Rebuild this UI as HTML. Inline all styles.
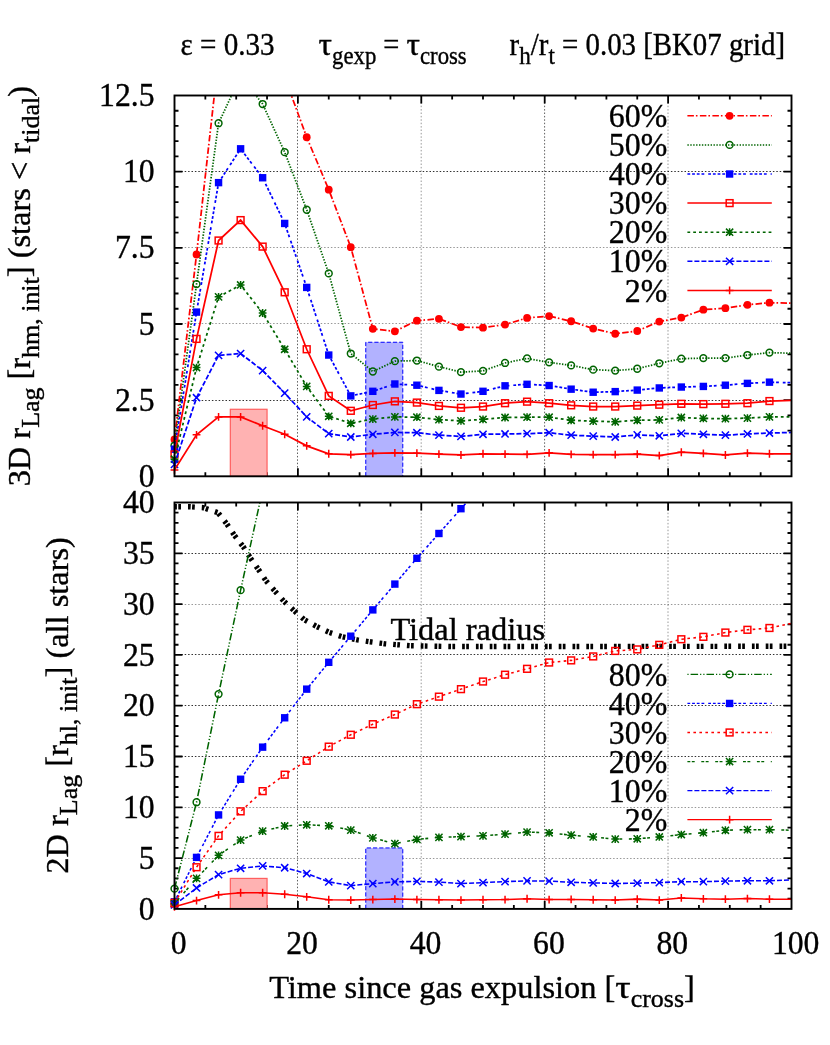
<!DOCTYPE html>
<html><head><meta charset="utf-8"><title>r_Lag</title>
<style>html,body{margin:0;padding:0;background:#fff}svg{display:block;will-change:transform}</style></head>
<body>
<svg width="830" height="1045" viewBox="0 0 830 1045" font-family="'Liberation Serif', serif" fill="#000"><style>text{stroke:#000;stroke-width:0.38px}</style>
<rect width="830" height="1045" fill="#fff"/>
<defs><clipPath id="ct"><rect x="174.5" y="95.5" width="617.0" height="380.8"/></clipPath><clipPath id="cb"><rect x="174.5" y="502.5" width="617.0" height="406.4"/></clipPath></defs>
<path d="M297.50 95.50V476.30" stroke="#000" stroke-width="0.9" stroke-opacity="0.7" stroke-dasharray="1.5 1.9" fill="none"/>
<path d="M421.20 95.50V476.30" stroke="#000" stroke-width="0.9" stroke-opacity="0.45" stroke-dasharray="1.5 1.9" fill="none"/>
<path d="M544.60 95.50V476.30" stroke="#000" stroke-width="0.9" stroke-opacity="0.7" stroke-dasharray="1.5 1.9" fill="none"/>
<path d="M668.00 95.50V476.30" stroke="#000" stroke-width="0.9" stroke-opacity="0.45" stroke-dasharray="1.5 1.9" fill="none"/>
<path d="M174.50 400.50H791.50" stroke="#000" stroke-width="0.9" stroke-opacity="0.9" stroke-dasharray="1.5 1.9" fill="none"/>
<path d="M174.50 323.50H791.50" stroke="#000" stroke-width="0.9" stroke-opacity="0.45" stroke-dasharray="1.5 1.9" fill="none"/>
<path d="M174.50 247.50H791.50" stroke="#000" stroke-width="0.9" stroke-opacity="0.45" stroke-dasharray="1.5 1.9" fill="none"/>
<path d="M174.50 171.50H791.50" stroke="#000" stroke-width="0.9" stroke-opacity="0.9" stroke-dasharray="1.5 1.9" fill="none"/>
<path d="M297.50 502.50V908.90" stroke="#000" stroke-width="0.9" stroke-opacity="0.7" stroke-dasharray="1.5 1.9" fill="none"/>
<path d="M421.20 502.50V908.90" stroke="#000" stroke-width="0.9" stroke-opacity="0.45" stroke-dasharray="1.5 1.9" fill="none"/>
<path d="M544.60 502.50V908.90" stroke="#000" stroke-width="0.9" stroke-opacity="0.7" stroke-dasharray="1.5 1.9" fill="none"/>
<path d="M668.00 502.50V908.90" stroke="#000" stroke-width="0.9" stroke-opacity="0.45" stroke-dasharray="1.5 1.9" fill="none"/>
<path d="M174.50 858.50H791.50" stroke="#000" stroke-width="0.9" stroke-opacity="0.45" stroke-dasharray="1.5 1.9" fill="none"/>
<path d="M174.50 807.50H791.50" stroke="#000" stroke-width="0.9" stroke-opacity="0.45" stroke-dasharray="1.5 1.9" fill="none"/>
<path d="M174.50 756.50H791.50" stroke="#000" stroke-width="0.9" stroke-opacity="0.9" stroke-dasharray="1.5 1.9" fill="none"/>
<path d="M174.50 705.50H791.50" stroke="#000" stroke-width="0.9" stroke-opacity="0.9" stroke-dasharray="1.5 1.9" fill="none"/>
<path d="M174.50 654.50H791.50" stroke="#000" stroke-width="0.9" stroke-opacity="0.9" stroke-dasharray="1.5 1.9" fill="none"/>
<path d="M174.50 604.50H791.50" stroke="#000" stroke-width="0.9" stroke-opacity="0.45" stroke-dasharray="1.5 1.9" fill="none"/>
<path d="M174.50 553.50H791.50" stroke="#000" stroke-width="0.9" stroke-opacity="0.9" stroke-dasharray="1.5 1.9" fill="none"/>
<path d="M205.35 476.30v-4.00M205.35 95.50v4.00M236.20 476.30v-4.00M236.20 95.50v4.00M267.05 476.30v-4.00M267.05 95.50v4.00M297.90 476.30v-8.00M297.90 95.50v8.00M328.75 476.30v-4.00M328.75 95.50v4.00M359.60 476.30v-4.00M359.60 95.50v4.00M390.45 476.30v-4.00M390.45 95.50v4.00M421.30 476.30v-8.00M421.30 95.50v8.00M452.15 476.30v-4.00M452.15 95.50v4.00M483.00 476.30v-4.00M483.00 95.50v4.00M513.85 476.30v-4.00M513.85 95.50v4.00M544.70 476.30v-8.00M544.70 95.50v8.00M575.55 476.30v-4.00M575.55 95.50v4.00M606.40 476.30v-4.00M606.40 95.50v4.00M637.25 476.30v-4.00M637.25 95.50v4.00M668.10 476.30v-8.00M668.10 95.50v8.00M698.95 476.30v-4.00M698.95 95.50v4.00M729.80 476.30v-4.00M729.80 95.50v4.00M760.65 476.30v-4.00M760.65 95.50v4.00M174.50 461.07h4.00M791.50 461.07h-4.00M174.50 445.84h4.00M791.50 445.84h-4.00M174.50 430.60h4.00M791.50 430.60h-4.00M174.50 415.37h4.00M791.50 415.37h-4.00M174.50 400.14h8.00M791.50 400.14h-8.00M174.50 384.91h4.00M791.50 384.91h-4.00M174.50 369.68h4.00M791.50 369.68h-4.00M174.50 354.44h4.00M791.50 354.44h-4.00M174.50 339.21h4.00M791.50 339.21h-4.00M174.50 323.98h8.00M791.50 323.98h-8.00M174.50 308.75h4.00M791.50 308.75h-4.00M174.50 293.52h4.00M791.50 293.52h-4.00M174.50 278.28h4.00M791.50 278.28h-4.00M174.50 263.05h4.00M791.50 263.05h-4.00M174.50 247.82h8.00M791.50 247.82h-8.00M174.50 232.59h4.00M791.50 232.59h-4.00M174.50 217.36h4.00M791.50 217.36h-4.00M174.50 202.12h4.00M791.50 202.12h-4.00M174.50 186.89h4.00M791.50 186.89h-4.00M174.50 171.66h8.00M791.50 171.66h-8.00M174.50 156.43h4.00M791.50 156.43h-4.00M174.50 141.20h4.00M791.50 141.20h-4.00M174.50 125.96h4.00M791.50 125.96h-4.00M174.50 110.73h4.00M791.50 110.73h-4.00" stroke="#000" stroke-width="1.8" fill="none"/>
<path d="M205.35 908.90v-4.00M205.35 502.50v4.00M236.20 908.90v-4.00M236.20 502.50v4.00M267.05 908.90v-4.00M267.05 502.50v4.00M297.90 908.90v-8.00M297.90 502.50v8.00M328.75 908.90v-4.00M328.75 502.50v4.00M359.60 908.90v-4.00M359.60 502.50v4.00M390.45 908.90v-4.00M390.45 502.50v4.00M421.30 908.90v-8.00M421.30 502.50v8.00M452.15 908.90v-4.00M452.15 502.50v4.00M483.00 908.90v-4.00M483.00 502.50v4.00M513.85 908.90v-4.00M513.85 502.50v4.00M544.70 908.90v-8.00M544.70 502.50v8.00M575.55 908.90v-4.00M575.55 502.50v4.00M606.40 908.90v-4.00M606.40 502.50v4.00M637.25 908.90v-4.00M637.25 502.50v4.00M668.10 908.90v-8.00M668.10 502.50v8.00M698.95 908.90v-4.00M698.95 502.50v4.00M729.80 908.90v-4.00M729.80 502.50v4.00M760.65 908.90v-4.00M760.65 502.50v4.00M174.50 898.74h4.00M791.50 898.74h-4.00M174.50 888.58h4.00M791.50 888.58h-4.00M174.50 878.42h4.00M791.50 878.42h-4.00M174.50 868.26h4.00M791.50 868.26h-4.00M174.50 858.10h8.00M791.50 858.10h-8.00M174.50 847.94h4.00M791.50 847.94h-4.00M174.50 837.78h4.00M791.50 837.78h-4.00M174.50 827.62h4.00M791.50 827.62h-4.00M174.50 817.46h4.00M791.50 817.46h-4.00M174.50 807.30h8.00M791.50 807.30h-8.00M174.50 797.14h4.00M791.50 797.14h-4.00M174.50 786.98h4.00M791.50 786.98h-4.00M174.50 776.82h4.00M791.50 776.82h-4.00M174.50 766.66h4.00M791.50 766.66h-4.00M174.50 756.50h8.00M791.50 756.50h-8.00M174.50 746.34h4.00M791.50 746.34h-4.00M174.50 736.18h4.00M791.50 736.18h-4.00M174.50 726.02h4.00M791.50 726.02h-4.00M174.50 715.86h4.00M791.50 715.86h-4.00M174.50 705.70h8.00M791.50 705.70h-8.00M174.50 695.54h4.00M791.50 695.54h-4.00M174.50 685.38h4.00M791.50 685.38h-4.00M174.50 675.22h4.00M791.50 675.22h-4.00M174.50 665.06h4.00M791.50 665.06h-4.00M174.50 654.90h8.00M791.50 654.90h-8.00M174.50 644.74h4.00M791.50 644.74h-4.00M174.50 634.58h4.00M791.50 634.58h-4.00M174.50 624.42h4.00M791.50 624.42h-4.00M174.50 614.26h4.00M791.50 614.26h-4.00M174.50 604.10h8.00M791.50 604.10h-8.00M174.50 593.94h4.00M791.50 593.94h-4.00M174.50 583.78h4.00M791.50 583.78h-4.00M174.50 573.62h4.00M791.50 573.62h-4.00M174.50 563.46h4.00M791.50 563.46h-4.00M174.50 553.30h8.00M791.50 553.30h-8.00M174.50 543.14h4.00M791.50 543.14h-4.00M174.50 532.98h4.00M791.50 532.98h-4.00M174.50 522.82h4.00M791.50 522.82h-4.00M174.50 512.66h4.00M791.50 512.66h-4.00" stroke="#000" stroke-width="1.8" fill="none"/>
<rect x="230.33" y="409.28" width="36.72" height="67.02" fill="#ffb2b2" stroke="#ff5f5f" stroke-width="1.2"/>
<rect x="365.77" y="342.26" width="37.02" height="134.04" fill="#b2b2ff"/>
<path d="M365.77 476.30V342.26H402.79V476.30" fill="none" stroke="#0000ff" stroke-width="1" stroke-dasharray="4.2 2"/>
<rect x="230.33" y="878.42" width="36.72" height="30.48" fill="#ffb2b2" stroke="#ff5f5f" stroke-width="1.2"/>
<rect x="365.77" y="847.94" width="37.02" height="60.96" fill="#b2b2ff"/>
<path d="M365.77 908.90V847.94H402.79V908.90" fill="none" stroke="#0000ff" stroke-width="1" stroke-dasharray="4.2 2"/>
<polyline clip-path="url(#ct)" points="174.50,439.44 196.54,254.52 218.57,57.42 240.61,13.25 262.64,31.53 284.68,77.22 306.71,137.24 328.75,189.63 350.79,247.21 372.82,328.85 394.86,331.29 416.89,320.63 438.93,318.80 460.96,327.03 483.00,327.64 505.04,324.59 527.07,317.89 549.11,316.06 571.14,321.24 593.18,328.55 615.21,333.73 637.25,330.99 659.29,321.54 681.32,317.58 703.36,309.66 725.39,308.14 747.43,304.79 769.46,302.66 791.50,303.26" fill="none" stroke="#ff0000" stroke-width="1.75" stroke-dasharray="6.5 2 1.6 2.4"/>
<circle cx="174.50" cy="439.44" r="3.9" fill="#ff0000"/>
<circle cx="196.54" cy="254.52" r="3.9" fill="#ff0000"/>
<circle cx="306.71" cy="137.24" r="3.9" fill="#ff0000"/>
<circle cx="328.75" cy="189.63" r="3.9" fill="#ff0000"/>
<circle cx="350.79" cy="247.21" r="3.9" fill="#ff0000"/>
<circle cx="372.82" cy="328.85" r="3.9" fill="#ff0000"/>
<circle cx="394.86" cy="331.29" r="3.9" fill="#ff0000"/>
<circle cx="416.89" cy="320.63" r="3.9" fill="#ff0000"/>
<circle cx="438.93" cy="318.80" r="3.9" fill="#ff0000"/>
<circle cx="460.96" cy="327.03" r="3.9" fill="#ff0000"/>
<circle cx="483.00" cy="327.64" r="3.9" fill="#ff0000"/>
<circle cx="505.04" cy="324.59" r="3.9" fill="#ff0000"/>
<circle cx="527.07" cy="317.89" r="3.9" fill="#ff0000"/>
<circle cx="549.11" cy="316.06" r="3.9" fill="#ff0000"/>
<circle cx="571.14" cy="321.24" r="3.9" fill="#ff0000"/>
<circle cx="593.18" cy="328.55" r="3.9" fill="#ff0000"/>
<circle cx="615.21" cy="333.73" r="3.9" fill="#ff0000"/>
<circle cx="637.25" cy="330.99" r="3.9" fill="#ff0000"/>
<circle cx="659.29" cy="321.54" r="3.9" fill="#ff0000"/>
<circle cx="681.32" cy="317.58" r="3.9" fill="#ff0000"/>
<circle cx="703.36" cy="309.66" r="3.9" fill="#ff0000"/>
<circle cx="725.39" cy="308.14" r="3.9" fill="#ff0000"/>
<circle cx="747.43" cy="304.79" r="3.9" fill="#ff0000"/>
<circle cx="769.46" cy="302.66" r="3.9" fill="#ff0000"/>
<polyline clip-path="url(#ct)" points="174.50,445.53 196.54,284.07 218.57,123.22 240.61,76.00 262.64,104.03 284.68,152.16 306.71,209.74 328.75,273.41 350.79,353.53 372.82,371.50 394.86,361.15 416.89,360.54 438.93,366.63 460.96,372.11 483.00,370.89 505.04,362.97 527.07,358.40 549.11,362.36 571.14,365.41 593.18,369.68 615.21,370.59 637.25,368.76 659.29,363.28 681.32,358.71 703.36,358.10 725.39,358.10 747.43,355.05 769.46,352.62 791.50,353.23" fill="none" stroke="#006400" stroke-width="1.75" stroke-dasharray="1.4 1.5"/>
<circle cx="174.50" cy="445.53" r="3.4" fill="none" stroke="#006400" stroke-width="1.5"/>
<circle cx="196.54" cy="284.07" r="3.4" fill="none" stroke="#006400" stroke-width="1.5"/>
<circle cx="218.57" cy="123.22" r="3.4" fill="none" stroke="#006400" stroke-width="1.5"/>
<circle cx="262.64" cy="104.03" r="3.4" fill="none" stroke="#006400" stroke-width="1.5"/>
<circle cx="284.68" cy="152.16" r="3.4" fill="none" stroke="#006400" stroke-width="1.5"/>
<circle cx="306.71" cy="209.74" r="3.4" fill="none" stroke="#006400" stroke-width="1.5"/>
<circle cx="328.75" cy="273.41" r="3.4" fill="none" stroke="#006400" stroke-width="1.5"/>
<circle cx="350.79" cy="353.53" r="3.4" fill="none" stroke="#006400" stroke-width="1.5"/>
<circle cx="372.82" cy="371.50" r="3.4" fill="none" stroke="#006400" stroke-width="1.5"/>
<circle cx="394.86" cy="361.15" r="3.4" fill="none" stroke="#006400" stroke-width="1.5"/>
<circle cx="416.89" cy="360.54" r="3.4" fill="none" stroke="#006400" stroke-width="1.5"/>
<circle cx="438.93" cy="366.63" r="3.4" fill="none" stroke="#006400" stroke-width="1.5"/>
<circle cx="460.96" cy="372.11" r="3.4" fill="none" stroke="#006400" stroke-width="1.5"/>
<circle cx="483.00" cy="370.89" r="3.4" fill="none" stroke="#006400" stroke-width="1.5"/>
<circle cx="505.04" cy="362.97" r="3.4" fill="none" stroke="#006400" stroke-width="1.5"/>
<circle cx="527.07" cy="358.40" r="3.4" fill="none" stroke="#006400" stroke-width="1.5"/>
<circle cx="549.11" cy="362.36" r="3.4" fill="none" stroke="#006400" stroke-width="1.5"/>
<circle cx="571.14" cy="365.41" r="3.4" fill="none" stroke="#006400" stroke-width="1.5"/>
<circle cx="593.18" cy="369.68" r="3.4" fill="none" stroke="#006400" stroke-width="1.5"/>
<circle cx="615.21" cy="370.59" r="3.4" fill="none" stroke="#006400" stroke-width="1.5"/>
<circle cx="637.25" cy="368.76" r="3.4" fill="none" stroke="#006400" stroke-width="1.5"/>
<circle cx="659.29" cy="363.28" r="3.4" fill="none" stroke="#006400" stroke-width="1.5"/>
<circle cx="681.32" cy="358.71" r="3.4" fill="none" stroke="#006400" stroke-width="1.5"/>
<circle cx="703.36" cy="358.10" r="3.4" fill="none" stroke="#006400" stroke-width="1.5"/>
<circle cx="725.39" cy="358.10" r="3.4" fill="none" stroke="#006400" stroke-width="1.5"/>
<circle cx="747.43" cy="355.05" r="3.4" fill="none" stroke="#006400" stroke-width="1.5"/>
<circle cx="769.46" cy="352.62" r="3.4" fill="none" stroke="#006400" stroke-width="1.5"/>
<polyline clip-path="url(#ct)" points="174.50,449.19 196.54,312.10 218.57,182.63 240.61,148.81 262.64,177.75 284.68,223.45 306.71,287.42 328.75,355.05 350.79,395.88 372.82,391.31 394.86,383.99 416.89,385.21 438.93,390.39 460.96,394.05 483.00,391.31 505.04,385.82 527.07,384.30 549.11,385.52 571.14,389.17 593.18,392.22 615.21,391.61 637.25,390.09 659.29,387.95 681.32,387.04 703.36,386.43 725.39,385.21 747.43,383.38 769.46,382.17 791.50,382.78" fill="none" stroke="#0000ff" stroke-width="1.75" stroke-dasharray="2.8 1.9 2.8 1.9 2.8 1.9 2.8 3.9"/>
<rect x="170.80" y="445.49" width="7.4" height="7.4" fill="#0000ff"/>
<rect x="192.84" y="308.40" width="7.4" height="7.4" fill="#0000ff"/>
<rect x="214.87" y="178.93" width="7.4" height="7.4" fill="#0000ff"/>
<rect x="236.91" y="145.11" width="7.4" height="7.4" fill="#0000ff"/>
<rect x="258.94" y="174.05" width="7.4" height="7.4" fill="#0000ff"/>
<rect x="280.98" y="219.75" width="7.4" height="7.4" fill="#0000ff"/>
<rect x="303.01" y="283.72" width="7.4" height="7.4" fill="#0000ff"/>
<rect x="325.05" y="351.35" width="7.4" height="7.4" fill="#0000ff"/>
<rect x="347.09" y="392.18" width="7.4" height="7.4" fill="#0000ff"/>
<rect x="369.12" y="387.61" width="7.4" height="7.4" fill="#0000ff"/>
<rect x="391.16" y="380.29" width="7.4" height="7.4" fill="#0000ff"/>
<rect x="413.19" y="381.51" width="7.4" height="7.4" fill="#0000ff"/>
<rect x="435.23" y="386.69" width="7.4" height="7.4" fill="#0000ff"/>
<rect x="457.26" y="390.35" width="7.4" height="7.4" fill="#0000ff"/>
<rect x="479.30" y="387.61" width="7.4" height="7.4" fill="#0000ff"/>
<rect x="501.34" y="382.12" width="7.4" height="7.4" fill="#0000ff"/>
<rect x="523.37" y="380.60" width="7.4" height="7.4" fill="#0000ff"/>
<rect x="545.41" y="381.82" width="7.4" height="7.4" fill="#0000ff"/>
<rect x="567.44" y="385.47" width="7.4" height="7.4" fill="#0000ff"/>
<rect x="589.48" y="388.52" width="7.4" height="7.4" fill="#0000ff"/>
<rect x="611.51" y="387.91" width="7.4" height="7.4" fill="#0000ff"/>
<rect x="633.55" y="386.39" width="7.4" height="7.4" fill="#0000ff"/>
<rect x="655.59" y="384.25" width="7.4" height="7.4" fill="#0000ff"/>
<rect x="677.62" y="383.34" width="7.4" height="7.4" fill="#0000ff"/>
<rect x="699.66" y="382.73" width="7.4" height="7.4" fill="#0000ff"/>
<rect x="721.69" y="381.51" width="7.4" height="7.4" fill="#0000ff"/>
<rect x="743.73" y="379.68" width="7.4" height="7.4" fill="#0000ff"/>
<rect x="765.76" y="378.47" width="7.4" height="7.4" fill="#0000ff"/>
<polyline clip-path="url(#ct)" points="174.50,454.37 196.54,338.91 218.57,240.51 240.61,220.10 262.64,246.60 284.68,292.30 306.71,349.27 328.75,395.88 350.79,410.80 372.82,405.01 394.86,401.36 416.89,402.58 438.93,405.93 460.96,407.76 483.00,406.54 505.04,403.19 527.07,401.66 549.11,403.19 571.14,405.32 593.18,406.54 615.21,406.54 637.25,405.62 659.29,404.71 681.32,403.80 703.36,404.10 725.39,403.80 747.43,403.19 769.46,401.05 791.50,400.44" fill="none" stroke="#ff0000" stroke-width="1.75"/>
<rect x="171.10" y="450.97" width="6.8" height="6.8" fill="none" stroke="#ff0000" stroke-width="1.5"/>
<rect x="193.14" y="335.51" width="6.8" height="6.8" fill="none" stroke="#ff0000" stroke-width="1.5"/>
<rect x="215.17" y="237.11" width="6.8" height="6.8" fill="none" stroke="#ff0000" stroke-width="1.5"/>
<rect x="237.21" y="216.70" width="6.8" height="6.8" fill="none" stroke="#ff0000" stroke-width="1.5"/>
<rect x="259.24" y="243.20" width="6.8" height="6.8" fill="none" stroke="#ff0000" stroke-width="1.5"/>
<rect x="281.28" y="288.90" width="6.8" height="6.8" fill="none" stroke="#ff0000" stroke-width="1.5"/>
<rect x="303.31" y="345.87" width="6.8" height="6.8" fill="none" stroke="#ff0000" stroke-width="1.5"/>
<rect x="325.35" y="392.48" width="6.8" height="6.8" fill="none" stroke="#ff0000" stroke-width="1.5"/>
<rect x="347.39" y="407.40" width="6.8" height="6.8" fill="none" stroke="#ff0000" stroke-width="1.5"/>
<rect x="369.42" y="401.61" width="6.8" height="6.8" fill="none" stroke="#ff0000" stroke-width="1.5"/>
<rect x="391.46" y="397.96" width="6.8" height="6.8" fill="none" stroke="#ff0000" stroke-width="1.5"/>
<rect x="413.49" y="399.18" width="6.8" height="6.8" fill="none" stroke="#ff0000" stroke-width="1.5"/>
<rect x="435.53" y="402.53" width="6.8" height="6.8" fill="none" stroke="#ff0000" stroke-width="1.5"/>
<rect x="457.56" y="404.36" width="6.8" height="6.8" fill="none" stroke="#ff0000" stroke-width="1.5"/>
<rect x="479.60" y="403.14" width="6.8" height="6.8" fill="none" stroke="#ff0000" stroke-width="1.5"/>
<rect x="501.64" y="399.79" width="6.8" height="6.8" fill="none" stroke="#ff0000" stroke-width="1.5"/>
<rect x="523.67" y="398.26" width="6.8" height="6.8" fill="none" stroke="#ff0000" stroke-width="1.5"/>
<rect x="545.71" y="399.79" width="6.8" height="6.8" fill="none" stroke="#ff0000" stroke-width="1.5"/>
<rect x="567.74" y="401.92" width="6.8" height="6.8" fill="none" stroke="#ff0000" stroke-width="1.5"/>
<rect x="589.78" y="403.14" width="6.8" height="6.8" fill="none" stroke="#ff0000" stroke-width="1.5"/>
<rect x="611.81" y="403.14" width="6.8" height="6.8" fill="none" stroke="#ff0000" stroke-width="1.5"/>
<rect x="633.85" y="402.22" width="6.8" height="6.8" fill="none" stroke="#ff0000" stroke-width="1.5"/>
<rect x="655.89" y="401.31" width="6.8" height="6.8" fill="none" stroke="#ff0000" stroke-width="1.5"/>
<rect x="677.92" y="400.40" width="6.8" height="6.8" fill="none" stroke="#ff0000" stroke-width="1.5"/>
<rect x="699.96" y="400.70" width="6.8" height="6.8" fill="none" stroke="#ff0000" stroke-width="1.5"/>
<rect x="721.99" y="400.40" width="6.8" height="6.8" fill="none" stroke="#ff0000" stroke-width="1.5"/>
<rect x="744.03" y="399.79" width="6.8" height="6.8" fill="none" stroke="#ff0000" stroke-width="1.5"/>
<rect x="766.06" y="397.65" width="6.8" height="6.8" fill="none" stroke="#ff0000" stroke-width="1.5"/>
<polyline clip-path="url(#ct)" points="174.50,459.24 196.54,367.54 218.57,296.87 240.61,284.99 262.64,313.01 284.68,349.27 306.71,386.43 328.75,416.29 350.79,423.29 372.82,419.03 394.86,416.90 416.89,417.20 438.93,419.64 460.96,420.86 483.00,419.33 505.04,417.50 527.07,417.20 549.11,417.20 571.14,420.25 593.18,421.16 615.21,421.77 637.25,420.25 659.29,419.94 681.32,417.50 703.36,418.42 725.39,418.72 747.43,418.11 769.46,416.90 791.50,416.90" fill="none" stroke="#006400" stroke-width="1.75" stroke-dasharray="2.8 3"/>
<path d="M170.60 459.24H178.40M174.50 455.34V463.14M170.90 455.64L178.10 462.84M170.90 462.84L178.10 455.64" stroke="#006400" stroke-width="1.5" fill="none"/>
<path d="M192.64 367.54H200.44M196.54 363.64V371.44M192.94 363.94L200.14 371.14M192.94 371.14L200.14 363.94" stroke="#006400" stroke-width="1.5" fill="none"/>
<path d="M214.67 296.87H222.47M218.57 292.97V300.77M214.97 293.27L222.17 300.47M214.97 300.47L222.17 293.27" stroke="#006400" stroke-width="1.5" fill="none"/>
<path d="M236.71 284.99H244.51M240.61 281.09V288.89M237.01 281.39L244.21 288.59M237.01 288.59L244.21 281.39" stroke="#006400" stroke-width="1.5" fill="none"/>
<path d="M258.74 313.01H266.54M262.64 309.11V316.91M259.04 309.41L266.24 316.61M259.04 316.61L266.24 309.41" stroke="#006400" stroke-width="1.5" fill="none"/>
<path d="M280.78 349.27H288.58M284.68 345.37V353.17M281.08 345.67L288.28 352.87M281.08 352.87L288.28 345.67" stroke="#006400" stroke-width="1.5" fill="none"/>
<path d="M302.81 386.43H310.61M306.71 382.53V390.33M303.11 382.83L310.31 390.03M303.11 390.03L310.31 382.83" stroke="#006400" stroke-width="1.5" fill="none"/>
<path d="M324.85 416.29H332.65M328.75 412.39V420.19M325.15 412.69L332.35 419.89M325.15 419.89L332.35 412.69" stroke="#006400" stroke-width="1.5" fill="none"/>
<path d="M346.89 423.29H354.69M350.79 419.39V427.19M347.19 419.69L354.39 426.89M347.19 426.89L354.39 419.69" stroke="#006400" stroke-width="1.5" fill="none"/>
<path d="M368.92 419.03H376.72M372.82 415.13V422.93M369.22 415.43L376.42 422.63M369.22 422.63L376.42 415.43" stroke="#006400" stroke-width="1.5" fill="none"/>
<path d="M390.96 416.90H398.76M394.86 413.00V420.80M391.26 413.30L398.46 420.50M391.26 420.50L398.46 413.30" stroke="#006400" stroke-width="1.5" fill="none"/>
<path d="M412.99 417.20H420.79M416.89 413.30V421.10M413.29 413.60L420.49 420.80M413.29 420.80L420.49 413.60" stroke="#006400" stroke-width="1.5" fill="none"/>
<path d="M435.03 419.64H442.83M438.93 415.74V423.54M435.33 416.04L442.53 423.24M435.33 423.24L442.53 416.04" stroke="#006400" stroke-width="1.5" fill="none"/>
<path d="M457.06 420.86H464.86M460.96 416.96V424.76M457.36 417.26L464.56 424.46M457.36 424.46L464.56 417.26" stroke="#006400" stroke-width="1.5" fill="none"/>
<path d="M479.10 419.33H486.90M483.00 415.43V423.23M479.40 415.73L486.60 422.93M479.40 422.93L486.60 415.73" stroke="#006400" stroke-width="1.5" fill="none"/>
<path d="M501.14 417.50H508.94M505.04 413.60V421.40M501.44 413.90L508.64 421.10M501.44 421.10L508.64 413.90" stroke="#006400" stroke-width="1.5" fill="none"/>
<path d="M523.17 417.20H530.97M527.07 413.30V421.10M523.47 413.60L530.67 420.80M523.47 420.80L530.67 413.60" stroke="#006400" stroke-width="1.5" fill="none"/>
<path d="M545.21 417.20H553.01M549.11 413.30V421.10M545.51 413.60L552.71 420.80M545.51 420.80L552.71 413.60" stroke="#006400" stroke-width="1.5" fill="none"/>
<path d="M567.24 420.25H575.04M571.14 416.35V424.15M567.54 416.65L574.74 423.85M567.54 423.85L574.74 416.65" stroke="#006400" stroke-width="1.5" fill="none"/>
<path d="M589.28 421.16H597.08M593.18 417.26V425.06M589.58 417.56L596.78 424.76M589.58 424.76L596.78 417.56" stroke="#006400" stroke-width="1.5" fill="none"/>
<path d="M611.31 421.77H619.11M615.21 417.87V425.67M611.61 418.17L618.81 425.37M611.61 425.37L618.81 418.17" stroke="#006400" stroke-width="1.5" fill="none"/>
<path d="M633.35 420.25H641.15M637.25 416.35V424.15M633.65 416.65L640.85 423.85M633.65 423.85L640.85 416.65" stroke="#006400" stroke-width="1.5" fill="none"/>
<path d="M655.39 419.94H663.19M659.29 416.04V423.84M655.69 416.34L662.89 423.54M655.69 423.54L662.89 416.34" stroke="#006400" stroke-width="1.5" fill="none"/>
<path d="M677.42 417.50H685.22M681.32 413.60V421.40M677.72 413.90L684.92 421.10M677.72 421.10L684.92 413.90" stroke="#006400" stroke-width="1.5" fill="none"/>
<path d="M699.46 418.42H707.26M703.36 414.52V422.32M699.76 414.82L706.96 422.02M699.76 422.02L706.96 414.82" stroke="#006400" stroke-width="1.5" fill="none"/>
<path d="M721.49 418.72H729.29M725.39 414.82V422.62M721.79 415.12L728.99 422.32M721.79 422.32L728.99 415.12" stroke="#006400" stroke-width="1.5" fill="none"/>
<path d="M743.53 418.11H751.33M747.43 414.21V422.01M743.83 414.51L751.03 421.71M743.83 421.71L751.03 414.51" stroke="#006400" stroke-width="1.5" fill="none"/>
<path d="M765.56 416.90H773.36M769.46 413.00V420.80M765.86 413.30L773.06 420.50M765.86 420.50L773.06 413.30" stroke="#006400" stroke-width="1.5" fill="none"/>
<polyline clip-path="url(#ct)" points="174.50,464.42 196.54,397.70 218.57,355.36 240.61,353.53 262.64,370.59 284.68,393.13 306.71,416.90 328.75,433.65 350.79,437.00 372.82,434.26 394.86,432.43 416.89,432.74 438.93,435.17 460.96,436.39 483.00,434.26 505.04,433.96 527.07,433.65 549.11,432.74 571.14,435.17 593.18,436.09 615.21,437.00 637.25,434.87 659.29,435.78 681.32,433.35 703.36,434.26 725.39,435.17 747.43,433.96 769.46,433.04 791.50,432.43" fill="none" stroke="#0000ff" stroke-width="1.75" stroke-dasharray="5 2"/>
<path d="M170.90 460.82L178.10 468.02M170.90 468.02L178.10 460.82" stroke="#0000ff" stroke-width="1.5" fill="none"/>
<path d="M192.94 394.10L200.14 401.30M192.94 401.30L200.14 394.10" stroke="#0000ff" stroke-width="1.5" fill="none"/>
<path d="M214.97 351.76L222.17 358.96M214.97 358.96L222.17 351.76" stroke="#0000ff" stroke-width="1.5" fill="none"/>
<path d="M237.01 349.93L244.21 357.13M237.01 357.13L244.21 349.93" stroke="#0000ff" stroke-width="1.5" fill="none"/>
<path d="M259.04 366.99L266.24 374.19M259.04 374.19L266.24 366.99" stroke="#0000ff" stroke-width="1.5" fill="none"/>
<path d="M281.08 389.53L288.28 396.73M281.08 396.73L288.28 389.53" stroke="#0000ff" stroke-width="1.5" fill="none"/>
<path d="M303.11 413.30L310.31 420.50M303.11 420.50L310.31 413.30" stroke="#0000ff" stroke-width="1.5" fill="none"/>
<path d="M325.15 430.05L332.35 437.25M325.15 437.25L332.35 430.05" stroke="#0000ff" stroke-width="1.5" fill="none"/>
<path d="M347.19 433.40L354.39 440.60M347.19 440.60L354.39 433.40" stroke="#0000ff" stroke-width="1.5" fill="none"/>
<path d="M369.22 430.66L376.42 437.86M369.22 437.86L376.42 430.66" stroke="#0000ff" stroke-width="1.5" fill="none"/>
<path d="M391.26 428.83L398.46 436.03M391.26 436.03L398.46 428.83" stroke="#0000ff" stroke-width="1.5" fill="none"/>
<path d="M413.29 429.14L420.49 436.34M413.29 436.34L420.49 429.14" stroke="#0000ff" stroke-width="1.5" fill="none"/>
<path d="M435.33 431.57L442.53 438.77M435.33 438.77L442.53 431.57" stroke="#0000ff" stroke-width="1.5" fill="none"/>
<path d="M457.36 432.79L464.56 439.99M457.36 439.99L464.56 432.79" stroke="#0000ff" stroke-width="1.5" fill="none"/>
<path d="M479.40 430.66L486.60 437.86M479.40 437.86L486.60 430.66" stroke="#0000ff" stroke-width="1.5" fill="none"/>
<path d="M501.44 430.36L508.64 437.56M501.44 437.56L508.64 430.36" stroke="#0000ff" stroke-width="1.5" fill="none"/>
<path d="M523.47 430.05L530.67 437.25M523.47 437.25L530.67 430.05" stroke="#0000ff" stroke-width="1.5" fill="none"/>
<path d="M545.51 429.14L552.71 436.34M545.51 436.34L552.71 429.14" stroke="#0000ff" stroke-width="1.5" fill="none"/>
<path d="M567.54 431.57L574.74 438.77M567.54 438.77L574.74 431.57" stroke="#0000ff" stroke-width="1.5" fill="none"/>
<path d="M589.58 432.49L596.78 439.69M589.58 439.69L596.78 432.49" stroke="#0000ff" stroke-width="1.5" fill="none"/>
<path d="M611.61 433.40L618.81 440.60M611.61 440.60L618.81 433.40" stroke="#0000ff" stroke-width="1.5" fill="none"/>
<path d="M633.65 431.27L640.85 438.47M633.65 438.47L640.85 431.27" stroke="#0000ff" stroke-width="1.5" fill="none"/>
<path d="M655.69 432.18L662.89 439.38M655.69 439.38L662.89 432.18" stroke="#0000ff" stroke-width="1.5" fill="none"/>
<path d="M677.72 429.75L684.92 436.95M677.72 436.95L684.92 429.75" stroke="#0000ff" stroke-width="1.5" fill="none"/>
<path d="M699.76 430.66L706.96 437.86M699.76 437.86L706.96 430.66" stroke="#0000ff" stroke-width="1.5" fill="none"/>
<path d="M721.79 431.57L728.99 438.77M721.79 438.77L728.99 431.57" stroke="#0000ff" stroke-width="1.5" fill="none"/>
<path d="M743.83 430.36L751.03 437.56M743.83 437.56L751.03 430.36" stroke="#0000ff" stroke-width="1.5" fill="none"/>
<path d="M765.86 429.44L773.06 436.64M765.86 436.64L773.06 429.44" stroke="#0000ff" stroke-width="1.5" fill="none"/>
<polyline clip-path="url(#ct)" points="174.50,469.90 196.54,434.87 218.57,416.90 240.61,416.90 262.64,425.73 284.68,434.26 306.71,445.84 328.75,453.76 350.79,454.67 372.82,453.45 394.86,452.84 416.89,453.15 438.93,454.06 460.96,454.98 483.00,453.76 505.04,454.06 527.07,454.37 549.11,452.84 571.14,454.37 593.18,454.67 615.21,454.67 637.25,454.06 659.29,455.58 681.32,452.23 703.36,453.45 725.39,454.98 747.43,453.15 769.46,453.76 791.50,453.76" fill="none" stroke="#ff0000" stroke-width="1.75"/>
<path d="M170.60 469.90H178.40M174.50 466.00V473.80" stroke="#ff0000" stroke-width="1.5" fill="none"/>
<path d="M192.64 434.87H200.44M196.54 430.97V438.77" stroke="#ff0000" stroke-width="1.5" fill="none"/>
<path d="M214.67 416.90H222.47M218.57 413.00V420.80" stroke="#ff0000" stroke-width="1.5" fill="none"/>
<path d="M236.71 416.90H244.51M240.61 413.00V420.80" stroke="#ff0000" stroke-width="1.5" fill="none"/>
<path d="M258.74 425.73H266.54M262.64 421.83V429.63" stroke="#ff0000" stroke-width="1.5" fill="none"/>
<path d="M280.78 434.26H288.58M284.68 430.36V438.16" stroke="#ff0000" stroke-width="1.5" fill="none"/>
<path d="M302.81 445.84H310.61M306.71 441.94V449.74" stroke="#ff0000" stroke-width="1.5" fill="none"/>
<path d="M324.85 453.76H332.65M328.75 449.86V457.66" stroke="#ff0000" stroke-width="1.5" fill="none"/>
<path d="M346.89 454.67H354.69M350.79 450.77V458.57" stroke="#ff0000" stroke-width="1.5" fill="none"/>
<path d="M368.92 453.45H376.72M372.82 449.55V457.35" stroke="#ff0000" stroke-width="1.5" fill="none"/>
<path d="M390.96 452.84H398.76M394.86 448.94V456.74" stroke="#ff0000" stroke-width="1.5" fill="none"/>
<path d="M412.99 453.15H420.79M416.89 449.25V457.05" stroke="#ff0000" stroke-width="1.5" fill="none"/>
<path d="M435.03 454.06H442.83M438.93 450.16V457.96" stroke="#ff0000" stroke-width="1.5" fill="none"/>
<path d="M457.06 454.98H464.86M460.96 451.08V458.88" stroke="#ff0000" stroke-width="1.5" fill="none"/>
<path d="M479.10 453.76H486.90M483.00 449.86V457.66" stroke="#ff0000" stroke-width="1.5" fill="none"/>
<path d="M501.14 454.06H508.94M505.04 450.16V457.96" stroke="#ff0000" stroke-width="1.5" fill="none"/>
<path d="M523.17 454.37H530.97M527.07 450.47V458.27" stroke="#ff0000" stroke-width="1.5" fill="none"/>
<path d="M545.21 452.84H553.01M549.11 448.94V456.74" stroke="#ff0000" stroke-width="1.5" fill="none"/>
<path d="M567.24 454.37H575.04M571.14 450.47V458.27" stroke="#ff0000" stroke-width="1.5" fill="none"/>
<path d="M589.28 454.67H597.08M593.18 450.77V458.57" stroke="#ff0000" stroke-width="1.5" fill="none"/>
<path d="M611.31 454.67H619.11M615.21 450.77V458.57" stroke="#ff0000" stroke-width="1.5" fill="none"/>
<path d="M633.35 454.06H641.15M637.25 450.16V457.96" stroke="#ff0000" stroke-width="1.5" fill="none"/>
<path d="M655.39 455.58H663.19M659.29 451.68V459.48" stroke="#ff0000" stroke-width="1.5" fill="none"/>
<path d="M677.42 452.23H685.22M681.32 448.33V456.13" stroke="#ff0000" stroke-width="1.5" fill="none"/>
<path d="M699.46 453.45H707.26M703.36 449.55V457.35" stroke="#ff0000" stroke-width="1.5" fill="none"/>
<path d="M721.49 454.98H729.29M725.39 451.08V458.88" stroke="#ff0000" stroke-width="1.5" fill="none"/>
<path d="M743.53 453.15H751.33M747.43 449.25V457.05" stroke="#ff0000" stroke-width="1.5" fill="none"/>
<path d="M765.56 453.76H773.36M769.46 449.86V457.66" stroke="#ff0000" stroke-width="1.5" fill="none"/>
<polyline clip-path="url(#cb)" points="174.50,506.77 189.93,506.77 202.88,507.58 218.06,512.76 226.94,524.14 234.53,535.52 243.36,546.90 249.71,556.96 258.54,569.66 266.12,581.04 275.01,591.20 283.89,601.26 294.01,610.60 304.07,619.54 316.78,626.55 329.37,632.45 342.08,636.71 357.26,639.96 369.90,641.79 384.28,643.72 410.81,645.76 452.15,646.57 791.50,646.26" fill="none" stroke="#000" stroke-width="5.4" stroke-dasharray="2.7 1.4 2.7 7" stroke-dashoffset="0.3"/>
<polyline clip-path="url(#cb)" points="174.50,888.68 196.54,802.22 218.57,694.12 240.61,590.18 262.64,489.80" fill="none" stroke="#006400" stroke-width="1.55" stroke-dasharray="7.5 2 1.2 2 1.2 2"/>
<circle cx="174.50" cy="888.68" r="3.4" fill="none" stroke="#006400" stroke-width="1.5"/>
<circle cx="196.54" cy="802.22" r="3.4" fill="none" stroke="#006400" stroke-width="1.5"/>
<circle cx="218.57" cy="694.12" r="3.4" fill="none" stroke="#006400" stroke-width="1.5"/>
<circle cx="240.61" cy="590.18" r="3.4" fill="none" stroke="#006400" stroke-width="1.5"/>
<polyline clip-path="url(#cb)" points="174.50,901.79 196.54,857.39 218.57,814.92 240.61,779.26 262.64,747.15 284.68,717.79 306.71,689.14 328.75,662.32 350.79,636.21 372.82,609.89 394.86,584.08 416.89,558.28 438.93,533.49 460.96,508.70 483.00,484.21" fill="none" stroke="#0000ff" stroke-width="1.55" stroke-dasharray="2.8 1.9 2.8 1.9 2.8 1.9 2.8 3.9"/>
<rect x="170.80" y="898.09" width="7.4" height="7.4" fill="#0000ff"/>
<rect x="192.84" y="853.69" width="7.4" height="7.4" fill="#0000ff"/>
<rect x="214.87" y="811.22" width="7.4" height="7.4" fill="#0000ff"/>
<rect x="236.91" y="775.56" width="7.4" height="7.4" fill="#0000ff"/>
<rect x="258.94" y="743.45" width="7.4" height="7.4" fill="#0000ff"/>
<rect x="280.98" y="714.09" width="7.4" height="7.4" fill="#0000ff"/>
<rect x="303.01" y="685.44" width="7.4" height="7.4" fill="#0000ff"/>
<rect x="325.05" y="658.62" width="7.4" height="7.4" fill="#0000ff"/>
<rect x="347.09" y="632.51" width="7.4" height="7.4" fill="#0000ff"/>
<rect x="369.12" y="606.19" width="7.4" height="7.4" fill="#0000ff"/>
<rect x="391.16" y="580.38" width="7.4" height="7.4" fill="#0000ff"/>
<rect x="413.19" y="554.58" width="7.4" height="7.4" fill="#0000ff"/>
<rect x="435.23" y="529.79" width="7.4" height="7.4" fill="#0000ff"/>
<rect x="457.26" y="505.00" width="7.4" height="7.4" fill="#0000ff"/>
<polyline clip-path="url(#cb)" points="174.50,902.80 196.54,867.24 218.57,835.85 240.61,811.36 262.64,791.15 284.68,774.69 306.71,760.77 328.75,746.64 350.79,734.76 372.82,724.19 394.86,714.54 416.89,704.18 438.93,696.66 460.96,689.14 483.00,681.52 505.04,674.71 527.07,668.82 549.11,662.52 571.14,660.39 593.18,656.42 615.21,650.94 637.25,649.41 659.29,644.84 681.32,639.25 703.36,636.82 725.39,632.55 747.43,629.80 769.46,627.98 791.50,623.40" fill="none" stroke="#ff0000" stroke-width="1.55" stroke-dasharray="2.6 3.4"/>
<rect x="171.10" y="899.40" width="6.8" height="6.8" fill="none" stroke="#ff0000" stroke-width="1.5"/>
<rect x="193.14" y="863.84" width="6.8" height="6.8" fill="none" stroke="#ff0000" stroke-width="1.5"/>
<rect x="215.17" y="832.45" width="6.8" height="6.8" fill="none" stroke="#ff0000" stroke-width="1.5"/>
<rect x="237.21" y="807.96" width="6.8" height="6.8" fill="none" stroke="#ff0000" stroke-width="1.5"/>
<rect x="259.24" y="787.75" width="6.8" height="6.8" fill="none" stroke="#ff0000" stroke-width="1.5"/>
<rect x="281.28" y="771.29" width="6.8" height="6.8" fill="none" stroke="#ff0000" stroke-width="1.5"/>
<rect x="303.31" y="757.37" width="6.8" height="6.8" fill="none" stroke="#ff0000" stroke-width="1.5"/>
<rect x="325.35" y="743.24" width="6.8" height="6.8" fill="none" stroke="#ff0000" stroke-width="1.5"/>
<rect x="347.39" y="731.36" width="6.8" height="6.8" fill="none" stroke="#ff0000" stroke-width="1.5"/>
<rect x="369.42" y="720.79" width="6.8" height="6.8" fill="none" stroke="#ff0000" stroke-width="1.5"/>
<rect x="391.46" y="711.14" width="6.8" height="6.8" fill="none" stroke="#ff0000" stroke-width="1.5"/>
<rect x="413.49" y="700.78" width="6.8" height="6.8" fill="none" stroke="#ff0000" stroke-width="1.5"/>
<rect x="435.53" y="693.26" width="6.8" height="6.8" fill="none" stroke="#ff0000" stroke-width="1.5"/>
<rect x="457.56" y="685.74" width="6.8" height="6.8" fill="none" stroke="#ff0000" stroke-width="1.5"/>
<rect x="479.60" y="678.12" width="6.8" height="6.8" fill="none" stroke="#ff0000" stroke-width="1.5"/>
<rect x="501.64" y="671.31" width="6.8" height="6.8" fill="none" stroke="#ff0000" stroke-width="1.5"/>
<rect x="523.67" y="665.42" width="6.8" height="6.8" fill="none" stroke="#ff0000" stroke-width="1.5"/>
<rect x="545.71" y="659.12" width="6.8" height="6.8" fill="none" stroke="#ff0000" stroke-width="1.5"/>
<rect x="567.74" y="656.99" width="6.8" height="6.8" fill="none" stroke="#ff0000" stroke-width="1.5"/>
<rect x="589.78" y="653.02" width="6.8" height="6.8" fill="none" stroke="#ff0000" stroke-width="1.5"/>
<rect x="611.81" y="647.54" width="6.8" height="6.8" fill="none" stroke="#ff0000" stroke-width="1.5"/>
<rect x="633.85" y="646.01" width="6.8" height="6.8" fill="none" stroke="#ff0000" stroke-width="1.5"/>
<rect x="655.89" y="641.44" width="6.8" height="6.8" fill="none" stroke="#ff0000" stroke-width="1.5"/>
<rect x="677.92" y="635.85" width="6.8" height="6.8" fill="none" stroke="#ff0000" stroke-width="1.5"/>
<rect x="699.96" y="633.42" width="6.8" height="6.8" fill="none" stroke="#ff0000" stroke-width="1.5"/>
<rect x="721.99" y="629.15" width="6.8" height="6.8" fill="none" stroke="#ff0000" stroke-width="1.5"/>
<rect x="744.03" y="626.40" width="6.8" height="6.8" fill="none" stroke="#ff0000" stroke-width="1.5"/>
<rect x="766.06" y="624.58" width="6.8" height="6.8" fill="none" stroke="#ff0000" stroke-width="1.5"/>
<polyline clip-path="url(#cb)" points="174.50,903.82 196.54,878.32 218.57,855.36 240.61,840.12 262.64,831.07 284.68,825.99 306.71,824.78 328.75,825.79 350.79,830.06 372.82,837.88 394.86,843.67 416.89,839.41 438.93,837.37 460.96,836.66 483.00,835.85 505.04,834.12 527.07,832.09 549.11,832.80 571.14,835.14 593.18,836.97 615.21,839.10 637.25,838.80 659.29,836.97 681.32,834.53 703.36,832.70 725.39,830.26 747.43,829.65 769.46,829.65 791.50,830.26" fill="none" stroke="#006400" stroke-width="1.55" stroke-dasharray="2.9 1.5 2.9 6.6"/>
<path d="M170.60 903.82H178.40M174.50 899.92V907.72M170.90 900.22L178.10 907.42M170.90 907.42L178.10 900.22" stroke="#006400" stroke-width="1.5" fill="none"/>
<path d="M192.64 878.32H200.44M196.54 874.42V882.22M192.94 874.72L200.14 881.92M192.94 881.92L200.14 874.72" stroke="#006400" stroke-width="1.5" fill="none"/>
<path d="M214.67 855.36H222.47M218.57 851.46V859.26M214.97 851.76L222.17 858.96M214.97 858.96L222.17 851.76" stroke="#006400" stroke-width="1.5" fill="none"/>
<path d="M236.71 840.12H244.51M240.61 836.22V844.02M237.01 836.52L244.21 843.72M237.01 843.72L244.21 836.52" stroke="#006400" stroke-width="1.5" fill="none"/>
<path d="M258.74 831.07H266.54M262.64 827.17V834.97M259.04 827.47L266.24 834.67M259.04 834.67L266.24 827.47" stroke="#006400" stroke-width="1.5" fill="none"/>
<path d="M280.78 825.99H288.58M284.68 822.09V829.89M281.08 822.39L288.28 829.59M281.08 829.59L288.28 822.39" stroke="#006400" stroke-width="1.5" fill="none"/>
<path d="M302.81 824.78H310.61M306.71 820.88V828.68M303.11 821.18L310.31 828.38M303.11 828.38L310.31 821.18" stroke="#006400" stroke-width="1.5" fill="none"/>
<path d="M324.85 825.79H332.65M328.75 821.89V829.69M325.15 822.19L332.35 829.39M325.15 829.39L332.35 822.19" stroke="#006400" stroke-width="1.5" fill="none"/>
<path d="M346.89 830.06H354.69M350.79 826.16V833.96M347.19 826.46L354.39 833.66M347.19 833.66L354.39 826.46" stroke="#006400" stroke-width="1.5" fill="none"/>
<path d="M368.92 837.88H376.72M372.82 833.98V841.78M369.22 834.28L376.42 841.48M369.22 841.48L376.42 834.28" stroke="#006400" stroke-width="1.5" fill="none"/>
<path d="M390.96 843.67H398.76M394.86 839.77V847.57M391.26 840.07L398.46 847.27M391.26 847.27L398.46 840.07" stroke="#006400" stroke-width="1.5" fill="none"/>
<path d="M412.99 839.41H420.79M416.89 835.51V843.31M413.29 835.81L420.49 843.01M413.29 843.01L420.49 835.81" stroke="#006400" stroke-width="1.5" fill="none"/>
<path d="M435.03 837.37H442.83M438.93 833.47V841.27M435.33 833.77L442.53 840.97M435.33 840.97L442.53 833.77" stroke="#006400" stroke-width="1.5" fill="none"/>
<path d="M457.06 836.66H464.86M460.96 832.76V840.56M457.36 833.06L464.56 840.26M457.36 840.26L464.56 833.06" stroke="#006400" stroke-width="1.5" fill="none"/>
<path d="M479.10 835.85H486.90M483.00 831.95V839.75M479.40 832.25L486.60 839.45M479.40 839.45L486.60 832.25" stroke="#006400" stroke-width="1.5" fill="none"/>
<path d="M501.14 834.12H508.94M505.04 830.22V838.02M501.44 830.52L508.64 837.72M501.44 837.72L508.64 830.52" stroke="#006400" stroke-width="1.5" fill="none"/>
<path d="M523.17 832.09H530.97M527.07 828.19V835.99M523.47 828.49L530.67 835.69M523.47 835.69L530.67 828.49" stroke="#006400" stroke-width="1.5" fill="none"/>
<path d="M545.21 832.80H553.01M549.11 828.90V836.70M545.51 829.20L552.71 836.40M545.51 836.40L552.71 829.20" stroke="#006400" stroke-width="1.5" fill="none"/>
<path d="M567.24 835.14H575.04M571.14 831.24V839.04M567.54 831.54L574.74 838.74M567.54 838.74L574.74 831.54" stroke="#006400" stroke-width="1.5" fill="none"/>
<path d="M589.28 836.97H597.08M593.18 833.07V840.87M589.58 833.37L596.78 840.57M589.58 840.57L596.78 833.37" stroke="#006400" stroke-width="1.5" fill="none"/>
<path d="M611.31 839.10H619.11M615.21 835.20V843.00M611.61 835.50L618.81 842.70M611.61 842.70L618.81 835.50" stroke="#006400" stroke-width="1.5" fill="none"/>
<path d="M633.35 838.80H641.15M637.25 834.90V842.70M633.65 835.20L640.85 842.40M633.65 842.40L640.85 835.20" stroke="#006400" stroke-width="1.5" fill="none"/>
<path d="M655.39 836.97H663.19M659.29 833.07V840.87M655.69 833.37L662.89 840.57M655.69 840.57L662.89 833.37" stroke="#006400" stroke-width="1.5" fill="none"/>
<path d="M677.42 834.53H685.22M681.32 830.63V838.43M677.72 830.93L684.92 838.13M677.72 838.13L684.92 830.93" stroke="#006400" stroke-width="1.5" fill="none"/>
<path d="M699.46 832.70H707.26M703.36 828.80V836.60M699.76 829.10L706.96 836.30M699.76 836.30L706.96 829.10" stroke="#006400" stroke-width="1.5" fill="none"/>
<path d="M721.49 830.26H729.29M725.39 826.36V834.16M721.79 826.66L728.99 833.86M721.79 833.86L728.99 826.66" stroke="#006400" stroke-width="1.5" fill="none"/>
<path d="M743.53 829.65H751.33M747.43 825.75V833.55M743.83 826.05L751.03 833.25M743.83 833.25L751.03 826.05" stroke="#006400" stroke-width="1.5" fill="none"/>
<path d="M765.56 829.65H773.36M769.46 825.75V833.55M765.86 826.05L773.06 833.25M765.86 833.25L773.06 826.05" stroke="#006400" stroke-width="1.5" fill="none"/>
<polyline clip-path="url(#cb)" points="174.50,904.84 196.54,887.97 218.57,874.56 240.61,868.26 262.64,865.92 284.68,867.75 306.71,873.54 328.75,881.87 350.79,885.63 372.82,883.60 394.86,881.87 416.89,881.37 438.93,882.08 460.96,883.60 483.00,882.59 505.04,881.57 527.07,880.86 549.11,881.06 571.14,882.28 593.18,882.89 615.21,883.50 637.25,883.20 659.29,882.59 681.32,881.67 703.36,881.67 725.39,881.06 747.43,880.76 769.46,880.76 791.50,879.84" fill="none" stroke="#0000ff" stroke-width="1.55" stroke-dasharray="5 2"/>
<path d="M170.90 901.24L178.10 908.44M170.90 908.44L178.10 901.24" stroke="#0000ff" stroke-width="1.5" fill="none"/>
<path d="M192.94 884.37L200.14 891.57M192.94 891.57L200.14 884.37" stroke="#0000ff" stroke-width="1.5" fill="none"/>
<path d="M214.97 870.96L222.17 878.16M214.97 878.16L222.17 870.96" stroke="#0000ff" stroke-width="1.5" fill="none"/>
<path d="M237.01 864.66L244.21 871.86M237.01 871.86L244.21 864.66" stroke="#0000ff" stroke-width="1.5" fill="none"/>
<path d="M259.04 862.32L266.24 869.52M259.04 869.52L266.24 862.32" stroke="#0000ff" stroke-width="1.5" fill="none"/>
<path d="M281.08 864.15L288.28 871.35M281.08 871.35L288.28 864.15" stroke="#0000ff" stroke-width="1.5" fill="none"/>
<path d="M303.11 869.94L310.31 877.14M303.11 877.14L310.31 869.94" stroke="#0000ff" stroke-width="1.5" fill="none"/>
<path d="M325.15 878.27L332.35 885.47M325.15 885.47L332.35 878.27" stroke="#0000ff" stroke-width="1.5" fill="none"/>
<path d="M347.19 882.03L354.39 889.23M347.19 889.23L354.39 882.03" stroke="#0000ff" stroke-width="1.5" fill="none"/>
<path d="M369.22 880.00L376.42 887.20M369.22 887.20L376.42 880.00" stroke="#0000ff" stroke-width="1.5" fill="none"/>
<path d="M391.26 878.27L398.46 885.47M391.26 885.47L398.46 878.27" stroke="#0000ff" stroke-width="1.5" fill="none"/>
<path d="M413.29 877.77L420.49 884.97M413.29 884.97L420.49 877.77" stroke="#0000ff" stroke-width="1.5" fill="none"/>
<path d="M435.33 878.48L442.53 885.68M435.33 885.68L442.53 878.48" stroke="#0000ff" stroke-width="1.5" fill="none"/>
<path d="M457.36 880.00L464.56 887.20M457.36 887.20L464.56 880.00" stroke="#0000ff" stroke-width="1.5" fill="none"/>
<path d="M479.40 878.99L486.60 886.19M479.40 886.19L486.60 878.99" stroke="#0000ff" stroke-width="1.5" fill="none"/>
<path d="M501.44 877.97L508.64 885.17M501.44 885.17L508.64 877.97" stroke="#0000ff" stroke-width="1.5" fill="none"/>
<path d="M523.47 877.26L530.67 884.46M523.47 884.46L530.67 877.26" stroke="#0000ff" stroke-width="1.5" fill="none"/>
<path d="M545.51 877.46L552.71 884.66M545.51 884.66L552.71 877.46" stroke="#0000ff" stroke-width="1.5" fill="none"/>
<path d="M567.54 878.68L574.74 885.88M567.54 885.88L574.74 878.68" stroke="#0000ff" stroke-width="1.5" fill="none"/>
<path d="M589.58 879.29L596.78 886.49M589.58 886.49L596.78 879.29" stroke="#0000ff" stroke-width="1.5" fill="none"/>
<path d="M611.61 879.90L618.81 887.10M611.61 887.10L618.81 879.90" stroke="#0000ff" stroke-width="1.5" fill="none"/>
<path d="M633.65 879.60L640.85 886.80M633.65 886.80L640.85 879.60" stroke="#0000ff" stroke-width="1.5" fill="none"/>
<path d="M655.69 878.99L662.89 886.19M655.69 886.19L662.89 878.99" stroke="#0000ff" stroke-width="1.5" fill="none"/>
<path d="M677.72 878.07L684.92 885.27M677.72 885.27L684.92 878.07" stroke="#0000ff" stroke-width="1.5" fill="none"/>
<path d="M699.76 878.07L706.96 885.27M699.76 885.27L706.96 878.07" stroke="#0000ff" stroke-width="1.5" fill="none"/>
<path d="M721.79 877.46L728.99 884.66M721.79 884.66L728.99 877.46" stroke="#0000ff" stroke-width="1.5" fill="none"/>
<path d="M743.83 877.16L751.03 884.36M743.83 884.36L751.03 877.16" stroke="#0000ff" stroke-width="1.5" fill="none"/>
<path d="M765.86 877.16L773.06 884.36M765.86 884.36L773.06 877.16" stroke="#0000ff" stroke-width="1.5" fill="none"/>
<polyline clip-path="url(#cb)" points="174.50,906.87 196.54,900.57 218.57,894.78 240.61,892.75 262.64,892.75 284.68,894.27 306.71,896.81 328.75,899.76 350.79,900.06 372.82,899.55 394.86,899.04 416.89,899.55 438.93,899.76 460.96,900.06 483.00,899.76 505.04,899.55 527.07,898.74 549.11,899.55 571.14,899.45 593.18,899.76 615.21,900.06 637.25,899.15 659.29,900.06 681.32,897.93 703.36,898.84 725.39,899.15 747.43,898.54 769.46,899.15 791.50,899.15" fill="none" stroke="#ff0000" stroke-width="1.55"/>
<path d="M170.60 906.87H178.40M174.50 902.97V910.77" stroke="#ff0000" stroke-width="1.5" fill="none"/>
<path d="M192.64 900.57H200.44M196.54 896.67V904.47" stroke="#ff0000" stroke-width="1.5" fill="none"/>
<path d="M214.67 894.78H222.47M218.57 890.88V898.68" stroke="#ff0000" stroke-width="1.5" fill="none"/>
<path d="M236.71 892.75H244.51M240.61 888.85V896.65" stroke="#ff0000" stroke-width="1.5" fill="none"/>
<path d="M258.74 892.75H266.54M262.64 888.85V896.65" stroke="#ff0000" stroke-width="1.5" fill="none"/>
<path d="M280.78 894.27H288.58M284.68 890.37V898.17" stroke="#ff0000" stroke-width="1.5" fill="none"/>
<path d="M302.81 896.81H310.61M306.71 892.91V900.71" stroke="#ff0000" stroke-width="1.5" fill="none"/>
<path d="M324.85 899.76H332.65M328.75 895.86V903.66" stroke="#ff0000" stroke-width="1.5" fill="none"/>
<path d="M346.89 900.06H354.69M350.79 896.16V903.96" stroke="#ff0000" stroke-width="1.5" fill="none"/>
<path d="M368.92 899.55H376.72M372.82 895.65V903.45" stroke="#ff0000" stroke-width="1.5" fill="none"/>
<path d="M390.96 899.04H398.76M394.86 895.14V902.94" stroke="#ff0000" stroke-width="1.5" fill="none"/>
<path d="M412.99 899.55H420.79M416.89 895.65V903.45" stroke="#ff0000" stroke-width="1.5" fill="none"/>
<path d="M435.03 899.76H442.83M438.93 895.86V903.66" stroke="#ff0000" stroke-width="1.5" fill="none"/>
<path d="M457.06 900.06H464.86M460.96 896.16V903.96" stroke="#ff0000" stroke-width="1.5" fill="none"/>
<path d="M479.10 899.76H486.90M483.00 895.86V903.66" stroke="#ff0000" stroke-width="1.5" fill="none"/>
<path d="M501.14 899.55H508.94M505.04 895.65V903.45" stroke="#ff0000" stroke-width="1.5" fill="none"/>
<path d="M523.17 898.74H530.97M527.07 894.84V902.64" stroke="#ff0000" stroke-width="1.5" fill="none"/>
<path d="M545.21 899.55H553.01M549.11 895.65V903.45" stroke="#ff0000" stroke-width="1.5" fill="none"/>
<path d="M567.24 899.45H575.04M571.14 895.55V903.35" stroke="#ff0000" stroke-width="1.5" fill="none"/>
<path d="M589.28 899.76H597.08M593.18 895.86V903.66" stroke="#ff0000" stroke-width="1.5" fill="none"/>
<path d="M611.31 900.06H619.11M615.21 896.16V903.96" stroke="#ff0000" stroke-width="1.5" fill="none"/>
<path d="M633.35 899.15H641.15M637.25 895.25V903.05" stroke="#ff0000" stroke-width="1.5" fill="none"/>
<path d="M655.39 900.06H663.19M659.29 896.16V903.96" stroke="#ff0000" stroke-width="1.5" fill="none"/>
<path d="M677.42 897.93H685.22M681.32 894.03V901.83" stroke="#ff0000" stroke-width="1.5" fill="none"/>
<path d="M699.46 898.84H707.26M703.36 894.94V902.74" stroke="#ff0000" stroke-width="1.5" fill="none"/>
<path d="M721.49 899.15H729.29M725.39 895.25V903.05" stroke="#ff0000" stroke-width="1.5" fill="none"/>
<path d="M743.53 898.54H751.33M747.43 894.64V902.44" stroke="#ff0000" stroke-width="1.5" fill="none"/>
<path d="M765.56 899.15H773.36M769.46 895.25V903.05" stroke="#ff0000" stroke-width="1.5" fill="none"/>
<path d="M687.40 115.80H771.80" fill="none" stroke="#ff0000" stroke-width="1.5" stroke-dasharray="6.5 2 1.6 2.4"/>
<circle cx="729.60" cy="115.80" r="3.9" fill="#ff0000"/>
<text transform="translate(667.30 126.90) scale(0.9300 1)" font-size="34.3" text-anchor="end">60%</text>
<path d="M687.40 144.90H771.80" fill="none" stroke="#006400" stroke-width="1.5" stroke-dasharray="1.4 1.5"/>
<circle cx="729.60" cy="144.90" r="3.4" fill="none" stroke="#006400" stroke-width="1.5"/>
<text transform="translate(667.30 156.00) scale(0.9300 1)" font-size="34.3" text-anchor="end">50%</text>
<path d="M687.40 174.00H771.80" fill="none" stroke="#0000ff" stroke-width="1.5" stroke-dasharray="2.8 1.9 2.8 1.9 2.8 1.9 2.8 3.9"/>
<rect x="725.90" y="170.30" width="7.4" height="7.4" fill="#0000ff"/>
<text transform="translate(667.30 185.10) scale(0.9300 1)" font-size="34.3" text-anchor="end">40%</text>
<path d="M687.40 203.10H771.80" fill="none" stroke="#ff0000" stroke-width="1.5"/>
<rect x="726.20" y="199.70" width="6.8" height="6.8" fill="none" stroke="#ff0000" stroke-width="1.5"/>
<text transform="translate(667.30 214.20) scale(0.9300 1)" font-size="34.3" text-anchor="end">30%</text>
<path d="M687.40 232.20H771.80" fill="none" stroke="#006400" stroke-width="1.5" stroke-dasharray="2.8 3"/>
<path d="M725.70 232.20H733.50M729.60 228.30V236.10M726.00 228.60L733.20 235.80M726.00 235.80L733.20 228.60" stroke="#006400" stroke-width="1.5" fill="none"/>
<text transform="translate(667.30 243.30) scale(0.9300 1)" font-size="34.3" text-anchor="end">20%</text>
<path d="M687.40 261.30H771.80" fill="none" stroke="#0000ff" stroke-width="1.5" stroke-dasharray="5 2"/>
<path d="M726.00 257.70L733.20 264.90M726.00 264.90L733.20 257.70" stroke="#0000ff" stroke-width="1.5" fill="none"/>
<text transform="translate(667.30 272.40) scale(0.9300 1)" font-size="34.3" text-anchor="end">10%</text>
<path d="M687.40 290.40H771.80" fill="none" stroke="#ff0000" stroke-width="1.5"/>
<path d="M725.70 290.40H733.50M729.60 286.50V294.30" stroke="#ff0000" stroke-width="1.5" fill="none"/>
<text transform="translate(667.30 301.50) scale(0.9300 1)" font-size="34.3" text-anchor="end">2%</text>
<path d="M687.40 674.40H771.80" fill="none" stroke="#006400" stroke-width="1.3" stroke-dasharray="7.5 2 1.2 2 1.2 2" stroke-dashoffset="12.7"/>
<circle cx="729.60" cy="674.40" r="3.4" fill="none" stroke="#006400" stroke-width="1.5"/>
<text transform="translate(667.30 685.50) scale(0.9300 1)" font-size="34.3" text-anchor="end">80%</text>
<path d="M687.40 703.45H771.80" fill="none" stroke="#0000ff" stroke-width="1.3" stroke-dasharray="2.8 1.9 2.8 1.9 2.8 1.9 2.8 3.9"/>
<rect x="725.90" y="699.75" width="7.4" height="7.4" fill="#0000ff"/>
<text transform="translate(667.30 714.55) scale(0.9300 1)" font-size="34.3" text-anchor="end">40%</text>
<path d="M687.40 732.50H771.80" fill="none" stroke="#ff0000" stroke-width="1.3" stroke-dasharray="2.6 3.4"/>
<rect x="726.20" y="729.10" width="6.8" height="6.8" fill="none" stroke="#ff0000" stroke-width="1.5"/>
<text transform="translate(667.30 743.60) scale(0.9300 1)" font-size="34.3" text-anchor="end">30%</text>
<path d="M687.40 761.55H771.80" fill="none" stroke="#006400" stroke-width="1.3" stroke-dasharray="2.9 1.5 2.9 6.6"/>
<path d="M725.70 761.55H733.50M729.60 757.65V765.45M726.00 757.95L733.20 765.15M726.00 765.15L733.20 757.95" stroke="#006400" stroke-width="1.5" fill="none"/>
<text transform="translate(667.30 772.65) scale(0.9300 1)" font-size="34.3" text-anchor="end">20%</text>
<path d="M687.40 790.60H771.80" fill="none" stroke="#0000ff" stroke-width="1.3" stroke-dasharray="5 2"/>
<path d="M726.00 787.00L733.20 794.20M726.00 794.20L733.20 787.00" stroke="#0000ff" stroke-width="1.5" fill="none"/>
<text transform="translate(667.30 801.70) scale(0.9300 1)" font-size="34.3" text-anchor="end">10%</text>
<path d="M687.40 819.65H771.80" fill="none" stroke="#ff0000" stroke-width="1.3"/>
<path d="M725.70 819.65H733.50M729.60 815.75V823.55" stroke="#ff0000" stroke-width="1.5" fill="none"/>
<text transform="translate(667.30 830.75) scale(0.9300 1)" font-size="34.3" text-anchor="end">2%</text>
<rect x="174.50" y="95.50" width="617.00" height="380.80" fill="none" stroke="#000" stroke-width="1.9"/>
<rect x="174.50" y="502.50" width="617.00" height="406.40" fill="none" stroke="#000" stroke-width="1.9"/>
<text transform="translate(154.60 486.90) scale(0.9250 1)" font-size="34.3" text-anchor="end">0</text>
<text transform="translate(154.60 410.74) scale(0.9250 1)" font-size="34.3" text-anchor="end">2.5</text>
<text transform="translate(154.60 334.58) scale(0.9250 1)" font-size="34.3" text-anchor="end">5</text>
<text transform="translate(154.60 258.42) scale(0.9250 1)" font-size="34.3" text-anchor="end">7.5</text>
<text transform="translate(154.60 182.26) scale(0.9250 1)" font-size="34.3" text-anchor="end">10</text>
<text transform="translate(154.60 106.10) scale(0.9250 1)" font-size="34.3" text-anchor="end">12.5</text>
<text transform="translate(154.60 919.50) scale(0.9250 1)" font-size="34.3" text-anchor="end">0</text>
<text transform="translate(154.60 868.70) scale(0.9250 1)" font-size="34.3" text-anchor="end">5</text>
<text transform="translate(154.60 817.90) scale(0.9250 1)" font-size="34.3" text-anchor="end">10</text>
<text transform="translate(154.60 767.10) scale(0.9250 1)" font-size="34.3" text-anchor="end">15</text>
<text transform="translate(154.60 716.30) scale(0.9250 1)" font-size="34.3" text-anchor="end">20</text>
<text transform="translate(154.60 665.50) scale(0.9250 1)" font-size="34.3" text-anchor="end">25</text>
<text transform="translate(154.60 614.70) scale(0.9250 1)" font-size="34.3" text-anchor="end">30</text>
<text transform="translate(154.60 563.90) scale(0.9250 1)" font-size="34.3" text-anchor="end">35</text>
<text transform="translate(154.60 513.10) scale(0.9250 1)" font-size="34.3" text-anchor="end">40</text>
<text transform="translate(178.70 953.80) scale(0.9250 1)" font-size="34.3" text-anchor="middle">0</text>
<text transform="translate(302.10 953.80) scale(0.9250 1)" font-size="34.3" text-anchor="middle">20</text>
<text transform="translate(425.50 953.80) scale(0.9250 1)" font-size="34.3" text-anchor="middle">40</text>
<text transform="translate(548.90 953.80) scale(0.9250 1)" font-size="34.3" text-anchor="middle">60</text>
<text transform="translate(672.30 953.80) scale(0.9250 1)" font-size="34.3" text-anchor="middle">80</text>
<text transform="translate(795.70 953.80) scale(0.9250 1)" font-size="34.3" text-anchor="middle">100</text>
<text transform="translate(180.60 54.90) scale(0.8950 1)" font-size="32.5" text-anchor="start">ε = 0.33</text>
<text transform="translate(318.60 54.90) scale(0.8750 1)" font-size="32.5" text-anchor="start"><tspan textLength="15.4" lengthAdjust="spacingAndGlyphs" stroke="#000" stroke-width="0.4">τ</tspan><tspan font-size="26" dy="9.0">gexp</tspan><tspan dy="-9.0"> = </tspan><tspan textLength="15.4" lengthAdjust="spacingAndGlyphs" stroke="#000" stroke-width="0.4">τ</tspan><tspan font-size="26" dy="9.0">cross</tspan></text>
<text transform="translate(509.60 54.90) scale(0.8880 1)" font-size="32.5" text-anchor="start">r<tspan font-size="26" dy="9.0">h</tspan><tspan dy="-9.0">/r</tspan><tspan font-size="26" dy="9.0">t</tspan><tspan dy="-9.0"> = 0.03 [BK07 grid]</tspan></text>
<text transform="translate(390.40 639.80) scale(1.0460 1)" font-size="31" text-anchor="start">Tidal radius</text>
<text transform="translate(482.00 998.00) scale(1.0130 1)" font-size="32" text-anchor="middle">Time since gas expulsion [<tspan textLength="15.2" lengthAdjust="spacingAndGlyphs" stroke="#000" stroke-width="0.4">τ</tspan><tspan font-size="25.6" dy="9.0">cross</tspan><tspan dy="-9.0">]</tspan></text>
<text transform="translate(30.30 286.20) rotate(-90) scale(1.0130 1)" font-size="32" text-anchor="middle">3D r<tspan font-size="25.6" dy="9.0">Lag</tspan><tspan dy="-9.0"> [r</tspan><tspan font-size="25.6" dy="9.0">hm, init</tspan><tspan dy="-9.0">] (stars &lt; r</tspan><tspan font-size="25.6" dy="9.0">tidal</tspan><tspan dy="-9.0">)</tspan></text>
<text transform="translate(68.20 705.40) rotate(-90) scale(1.0130 1)" font-size="32" text-anchor="middle">2D r<tspan font-size="25.6" dy="9.0">Lag</tspan><tspan dy="-9.0"> [r</tspan><tspan font-size="25.6" dy="9.0">hl, init</tspan><tspan dy="-9.0">] (all stars)</tspan></text>
</svg>
</body></html>
